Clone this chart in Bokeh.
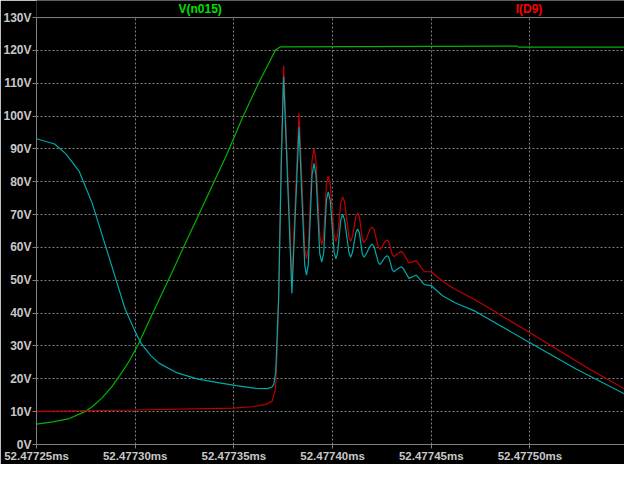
from bokeh.plotting import figure
from bokeh.models import Range1d, FixedTicker, Span, Label, BoxAnnotation
from bokeh.embed import file_html
from bokeh.resources import INLINE

# time offsets in ns from 52.47725 ms
t_green = [0, 8.3, 16.6, 24.9, 28.2, 33.2, 38.2, 43.1, 47.1, 51.4, 59.7, 68.1, 74.6, 82.9,
           91.2, 96.2, 104.5, 112.8, 121.1, 123.6, 243.6, 244.1, 301.8]
v_green = [6.2, 6.9, 7.9, 10.1, 11.5, 14.2, 17.6, 21.8, 25.5, 30.3, 41.0, 51.7, 60.2, 70.9,
           81.6, 88.0, 99.7, 110.4, 120.1, 121.1, 121.3, 121.0, 121.0]

t_red = [0, 49.8, 99.5, 109.5, 116.1, 119.4, 121.1, 122.0, 122.7, 124.0,
         125.2, 129.4, 133.0,
         135.9, 136.8, 137.7, 139.6, 140.6, 141.6, 143.5, 144.5, 145.5,
         146.9, 147.8, 148.8, 150.8, 151.7, 152.6, 154.2, 155.1, 156.1,
         158.3, 159.2, 160.1, 161.8, 162.7, 163.6, 165.1, 166.0, 167.0,
         169.0, 170.0, 171.0, 173.2, 174.1, 175.0, 176.7, 177.6, 178.5,
         180.3, 181.2, 182.1, 183.9, 184.8, 185.7,
         188.7, 192.4, 196.5, 199.9, 205.7, 212.3, 222.2, 247.1, 280.3, 301.8]
v_red = [10.1, 10.5, 11.1, 11.5, 12.2, 13.2, 17.1, 30, 45, 88,
         115.3, 49.7, 100.9,
         59.5, 56.5, 59.5, 86.5, 90.0, 86.5, 63.5, 60.8, 63.5,
         79.3, 81.7, 79.3, 63.8, 61.8, 63.8, 73.8, 75.4, 73.8,
         63.2, 61.8, 63.5, 69.4, 70.5, 69.3, 62.4, 61.5, 62.5,
         65.6, 66.2, 65.5, 60.0, 59.4, 60.2, 61.9, 62.3, 61.8,
         57.7, 57.2, 57.7, 58.5, 58.8, 58.4,
         55.3, 56.0, 52.6, 52.6, 49.7, 47.2, 44.1, 35.1, 22.9, 15.6]

t_cyan = [0, 9.2, 14.9, 21.6, 28.2, 34.8, 39.8, 44.8, 49.8, 53.1,
          58.0, 62.2, 71.3, 81.3, 91.2, 101.2, 111.1, 116.9, 119.3, 120.2,
          121.2, 121.9, 122.7, 124.0, 125.2, 129.4, 133.0,
          135.9, 136.8, 137.7, 139.6, 140.6, 141.6, 143.5, 144.5, 145.5,
          146.9, 147.8, 148.8, 150.8, 151.7, 152.6, 154.2, 155.1, 156.1,
          158.3, 159.2, 160.1, 161.8, 162.7, 163.6, 165.1, 166.0, 167.0,
          169.0, 170.0, 171.0, 173.2, 174.1, 175.0, 176.7, 177.6, 178.5,
          180.3, 181.2, 182.1, 183.9, 184.8, 185.7,
          188.7, 192.4, 196.5, 199.9, 205.7, 212.3, 222.2, 247.1, 273.6, 301.8]
v_cyan = [93.1, 91.5, 88.5, 83.2, 73.5, 60.8, 51.1, 41.4, 34.6, 30.7,
          27.0, 24.7, 21.8, 20.0, 18.9, 17.9, 17.1, 17.0, 17.5, 18.3,
          22.0, 32.7, 45.4, 85, 112, 46, 96.6,
          54.6, 51.6, 54.8, 82.0, 85.6, 82.0, 58.2, 55.5, 58.3,
          74.5, 76.9, 74.4, 58.5, 56.5, 58.6, 68.5, 70.1, 68.4,
          58.4, 57.0, 58.6, 64.5, 65.6, 64.4, 57.9, 57.0, 58.0,
          60.4, 61.0, 60.3, 55.4, 54.8, 55.6, 57.1, 57.5, 57.0,
          53.1, 52.6, 53.1, 53.8, 54.1, 53.7,
          50.6, 51.6, 48.7, 48.4, 45.3, 43.1, 40.6, 32.0, 22.9, 14.2]

x_ticks = [0, 50, 100, 150, 200, 250]
x_tick_labels = ["52.47725ms", "52.47730ms", "52.47735ms", "52.47740ms",
                 "52.47745ms", "52.47750ms"]
y_ticks = [0, 10, 20, 30, 40, 50, 60, 70, 80, 90, 100, 110, 120, 130]
y_tick_labels = ["0V", "10V", "20V", "30V", "40V", "50V", "60V", "70V", "80V",
                 "90V", "100V", "110V", "120V", "130V"]

trace_names = ["V(n015)", "I(D9)"]
trace_label_x = [82.9, 249.5]

FONT = "Liberation Sans"
GRAY = "#808080"
LBL = "#c8c8c8"
Y_TOP = 130

p = figure(width=624, height=464, output_backend="svg", toolbar_location=None,
           x_range=Range1d(0, 297.9), y_range=Range1d(0, 135.2),
           background_fill_color="black", border_fill_color="black",
           min_border_top=0, min_border_right=0, min_border_left=0, min_border_bottom=0)
p.outline_line_color = None

for ax, fs in ((p.xaxis[0], "11.5px"), (p.yaxis[0], "12px")):
    ax.axis_line_color = GRAY
    ax.major_tick_line_color = GRAY
    ax.minor_tick_line_color = None
    ax.major_tick_in = 0
    ax.major_tick_out = 4
    ax.major_label_text_color = LBL
    ax.major_label_text_font = FONT
    ax.major_label_text_font_style = "bold"
    ax.major_label_text_font_size = fs
    ax.major_label_standoff = 1
p.yaxis.bounds = (0, Y_TOP)

p.xaxis.ticker = FixedTicker(ticks=x_ticks)
p.xaxis.major_label_overrides = dict(zip(x_ticks, x_tick_labels))
p.yaxis.ticker = FixedTicker(ticks=y_ticks)
p.yaxis.major_label_overrides = dict(zip(y_ticks, y_tick_labels))

p.xgrid.ticker = FixedTicker(ticks=x_ticks)
p.ygrid.ticker = FixedTicker(ticks=y_ticks)
for g in (p.xgrid[0], p.ygrid[0]):
    g.grid_line_color = GRAY
    g.grid_line_dash = "2 2"
    g.grid_line_width = 1

p.line(t_green, v_green, line_color="#00b400", line_width=1.2)
p.line(t_red, v_red, line_color="#c00000", line_width=1.2)
p.line(t_cyan, v_cyan, line_color="#00a8a8", line_width=1.2)

# hide the grid above the plot area's top edge, then draw the top edge line
p.add_layout(BoxAnnotation(bottom=Y_TOP, fill_color="black", fill_alpha=1.0,
                           line_color=None))
p.add_layout(Span(location=Y_TOP, dimension="width", line_color=GRAY, line_width=1))

colors = ["#00e000", "#ff0000"]
for name, lx, c in zip(trace_names, trace_label_x, colors):
    p.add_layout(Label(x=lx, y=Y_TOP, y_offset=2, text=name, text_color=c,
                       text_font=FONT, text_font_style="bold", text_font_size="12px",
                       text_align="center", text_baseline="bottom"))

open("out.html", "w").write(file_html(p, INLINE))
